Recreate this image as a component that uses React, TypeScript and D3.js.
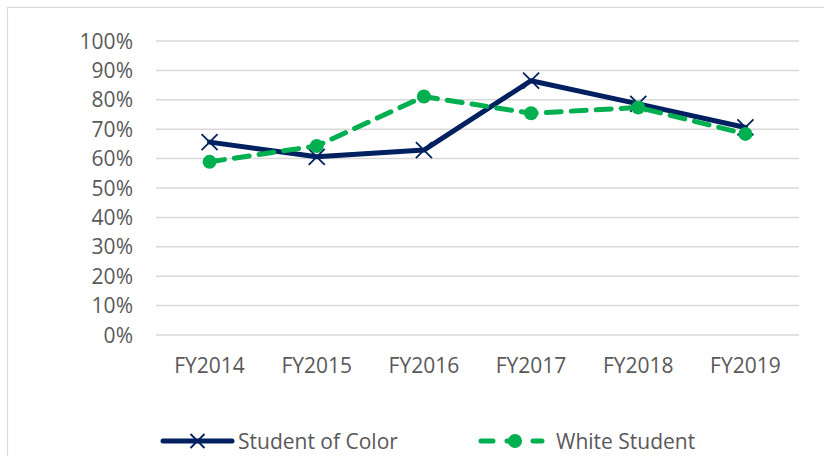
import React from "react";
import * as d3 from "d3";

const categories = ["FY2014", "FY2015", "FY2016", "FY2017", "FY2018", "FY2019"];
const studentOfColor = [65.6, 60.6, 62.9, 86.5, 78.6, 70.6];
const whiteStudent = [58.9, 64.3, 81.1, 75.4, 77.4, 68.4];
const yTicks = [0, 10, 20, 30, 40, 50, 60, 70, 80, 90, 100];
const seriesNames = ["Student of Color", "White Student"];

const W = 824;
const H = 456;
const FONT = "'Open Sans', sans-serif";
const FS = 21;
const TEXT = "#595959";
const NAVY = "#002060";
const GREEN = "#00B050";

export default function App() {
  const x = d3.scaleBand<string>().domain(categories).range([156, 799]);
  const y = d3.scaleLinear().domain([0, 100]).range([335, 41]);
  const cx = (c: string) => (x(c) as number) + x.bandwidth() / 2;
  const line = d3
    .line<number>()
    .x((_, i) => cx(categories[i]))
    .y((d) => y(d));

  const xMark = (px: number, py: number, s: number, key: string) => (
    <path
      key={key}
      d={`M${px - s},${py - s}L${px + s},${py + s}M${px - s},${py + s}L${px + s},${py - s}`}
      stroke={NAVY}
      strokeWidth={1.8}
      fill="none"
    />
  );

  return (
    <svg
      width={W}
      height={H}
      style={{ position: "absolute", left: 0, top: 0, background: "#fff" }}
      fontFamily={FONT}
    >
      <rect x={7.5} y={7.5} width={840} height={470} fill="#fff" stroke="#d9d9d9" strokeWidth={1.2} />
      {yTicks.map((t) => (
        <g key={t}>
          <line x1={156} x2={799} y1={y(t)} y2={y(t)} stroke="#d9d9d9" strokeWidth={1.5} />
          <text x={133} y={y(t)} dy="0.36em" textAnchor="end" fontSize={FS} fill={TEXT}>
            {t}%
          </text>
        </g>
      ))}
      {categories.map((c) => (
        <text key={c} x={cx(c)} y={373} textAnchor="middle" fontSize={FS} fill={TEXT}>
          {c}
        </text>
      ))}
      <path d={line(studentOfColor) as string} fill="none" stroke={NAVY} strokeWidth={5} strokeLinejoin="round" strokeLinecap="round" />
      {studentOfColor.map((v, i) => xMark(cx(categories[i]), y(v), 8, "m" + i))}
      <path
        d={line(whiteStudent) as string}
        fill="none"
        stroke={GREEN}
        strokeWidth={5}
        strokeDasharray="15 10"
        strokeLinejoin="round"
        strokeLinecap="round"
      />
      {whiteStudent.map((v, i) => (
        <circle key={"w" + i} cx={cx(categories[i])} cy={y(v)} r={7} fill={GREEN} />
      ))}
      {/* Legend */}
      <line x1={163} x2={232} y1={441} y2={441} stroke={NAVY} strokeWidth={5} strokeLinecap="round" />
      {xMark(197.5, 441, 7, "lm")}
      <text x={238} y={441} dy="0.36em" fontSize={FS} fill={TEXT}>
        {seriesNames[0]}
      </text>
      <line x1={481} x2={542} y1={441} y2={441} stroke={GREEN} strokeWidth={5} strokeDasharray="12 14" strokeLinecap="round" />
      <circle cx={515} cy={441} r={7} fill={GREEN} />
      <text x={556} y={441} dy="0.36em" fontSize={FS} fill={TEXT}>
        {seriesNames[1]}
      </text>
    </svg>
  );
}
